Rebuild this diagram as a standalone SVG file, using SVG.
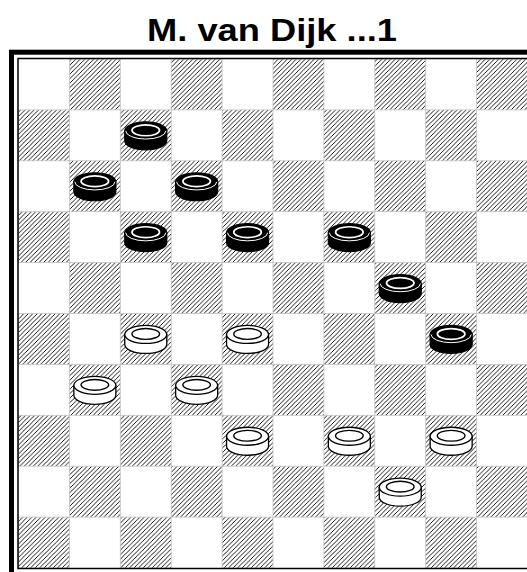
<svg xmlns="http://www.w3.org/2000/svg" xmlns:xlink="http://www.w3.org/1999/xlink" width="527" height="572" viewBox="0 0 527 572">
<style>
.t{font-family:"Liberation Sans",Arial,sans-serif;font-weight:bold;font-size:31px;fill:#000}
.d{fill:url(#h);stroke:#c4c4c4;stroke-width:0.8}
.b{fill:#000;stroke:#000;stroke-width:1.2}
.w{fill:#fff;stroke:#000;stroke-width:1.3}
.bl{fill:none;stroke:#fff;stroke-width:1}
.br{fill:none;stroke:#fff;stroke-width:1.7}
.wr{fill:none;stroke:#000;stroke-width:1.4}
</style>
<defs>
<pattern id="h" patternUnits="userSpaceOnUse" width="4.5" height="4.5">
<path d="M-1,1 L1,-1 M0,4.5 L4.5,0 M3.5,5.5 L5.5,3.5" stroke="#000" stroke-width="0.9"/>
</pattern>
<g id="bp">
<path class="b" d="M-21,-5 V5 A21,9 0 0 0 21,5 V-5 Z"/>
<ellipse class="b" cx="0" cy="-5" rx="21" ry="9"/>
<path class="bl" d="M-20.1,-5 A20.1,8.2 0 0 0 20.1,-5"/>
<ellipse class="br" cx="0" cy="-5.5" rx="13.8" ry="5.4"/>
</g>
<g id="wp">
<path class="w" d="M-21,-5 V5 A21,9 0 0 0 21,5 V-5 Z"/>
<ellipse class="w" cx="0" cy="-5" rx="21" ry="9"/>
<ellipse class="wr" cx="0" cy="-5.5" rx="13.8" ry="5.4"/>
</g>
</defs>
<rect width="527" height="572" fill="#fff"/>
<text class="t" x="272" y="41" text-anchor="middle" textLength="250" lengthAdjust="spacingAndGlyphs">M. van Dijk ...1</text>
<g id="board">
<g id="squares">
<rect class="d" x="69.4" y="59" width="50.9" height="50.9"/>
<rect class="d" x="171.2" y="59" width="50.9" height="50.9"/>
<rect class="d" x="273" y="59" width="50.9" height="50.9"/>
<rect class="d" x="374.8" y="59" width="50.9" height="50.9"/>
<rect class="d" x="476.6" y="59" width="50.9" height="50.9"/>
<rect class="d" x="18.5" y="109.9" width="50.9" height="50.9"/>
<rect class="d" x="120.3" y="109.9" width="50.9" height="50.9"/>
<rect class="d" x="222.1" y="109.9" width="50.9" height="50.9"/>
<rect class="d" x="323.9" y="109.9" width="50.9" height="50.9"/>
<rect class="d" x="425.7" y="109.9" width="50.9" height="50.9"/>
<rect class="d" x="69.4" y="160.8" width="50.9" height="50.9"/>
<rect class="d" x="171.2" y="160.8" width="50.9" height="50.9"/>
<rect class="d" x="273" y="160.8" width="50.9" height="50.9"/>
<rect class="d" x="374.8" y="160.8" width="50.9" height="50.9"/>
<rect class="d" x="476.6" y="160.8" width="50.9" height="50.9"/>
<rect class="d" x="18.5" y="211.7" width="50.9" height="50.9"/>
<rect class="d" x="120.3" y="211.7" width="50.9" height="50.9"/>
<rect class="d" x="222.1" y="211.7" width="50.9" height="50.9"/>
<rect class="d" x="323.9" y="211.7" width="50.9" height="50.9"/>
<rect class="d" x="425.7" y="211.7" width="50.9" height="50.9"/>
<rect class="d" x="69.4" y="262.6" width="50.9" height="50.9"/>
<rect class="d" x="171.2" y="262.6" width="50.9" height="50.9"/>
<rect class="d" x="273" y="262.6" width="50.9" height="50.9"/>
<rect class="d" x="374.8" y="262.6" width="50.9" height="50.9"/>
<rect class="d" x="476.6" y="262.6" width="50.9" height="50.9"/>
<rect class="d" x="18.5" y="313.5" width="50.9" height="50.9"/>
<rect class="d" x="120.3" y="313.5" width="50.9" height="50.9"/>
<rect class="d" x="222.1" y="313.5" width="50.9" height="50.9"/>
<rect class="d" x="323.9" y="313.5" width="50.9" height="50.9"/>
<rect class="d" x="425.7" y="313.5" width="50.9" height="50.9"/>
<rect class="d" x="69.4" y="364.4" width="50.9" height="50.9"/>
<rect class="d" x="171.2" y="364.4" width="50.9" height="50.9"/>
<rect class="d" x="273" y="364.4" width="50.9" height="50.9"/>
<rect class="d" x="374.8" y="364.4" width="50.9" height="50.9"/>
<rect class="d" x="476.6" y="364.4" width="50.9" height="50.9"/>
<rect class="d" x="18.5" y="415.3" width="50.9" height="50.9"/>
<rect class="d" x="120.3" y="415.3" width="50.9" height="50.9"/>
<rect class="d" x="222.1" y="415.3" width="50.9" height="50.9"/>
<rect class="d" x="323.9" y="415.3" width="50.9" height="50.9"/>
<rect class="d" x="425.7" y="415.3" width="50.9" height="50.9"/>
<rect class="d" x="69.4" y="466.2" width="50.9" height="50.9"/>
<rect class="d" x="171.2" y="466.2" width="50.9" height="50.9"/>
<rect class="d" x="273" y="466.2" width="50.9" height="50.9"/>
<rect class="d" x="374.8" y="466.2" width="50.9" height="50.9"/>
<rect class="d" x="476.6" y="466.2" width="50.9" height="50.9"/>
<rect class="d" x="18.5" y="517.1" width="50.9" height="50.9"/>
<rect class="d" x="120.3" y="517.1" width="50.9" height="50.9"/>
<rect class="d" x="222.1" y="517.1" width="50.9" height="50.9"/>
<rect class="d" x="323.9" y="517.1" width="50.9" height="50.9"/>
<rect class="d" x="425.7" y="517.1" width="50.9" height="50.9"/>
</g>
<rect id="frame-inner" x="18" y="58.5" width="520" height="510" fill="none" stroke="#000" stroke-width="1.5"/>
<rect id="frame-outer" x="11.5" y="52.2" width="540" height="540" fill="none" stroke="#000" stroke-width="5"/>
</g>
<g id="black-pieces">
<use id="b1" href="#bp" x="145.75" y="135.85"/>
<use id="b2" href="#bp" x="94.85" y="186.75"/>
<use id="b3" href="#bp" x="196.65" y="186.75"/>
<use id="b4" href="#bp" x="145.75" y="237.65"/>
<use id="b5" href="#bp" x="247.55" y="237.65"/>
<use id="b6" href="#bp" x="349.35" y="237.65"/>
<use id="b7" href="#bp" x="400.25" y="288.55"/>
<use id="b8" href="#bp" x="451.15" y="339.45"/>
</g>
<g id="white-pieces">
<use id="w1" href="#wp" x="145.75" y="339.45"/>
<use id="w2" href="#wp" x="247.55" y="339.45"/>
<use id="w3" href="#wp" x="94.85" y="390.35"/>
<use id="w4" href="#wp" x="196.65" y="390.35"/>
<use id="w5" href="#wp" x="247.55" y="441.25"/>
<use id="w6" href="#wp" x="349.35" y="441.25"/>
<use id="w7" href="#wp" x="451.15" y="441.25"/>
<use id="w8" href="#wp" x="400.25" y="492.15"/>
</g>
</svg>
